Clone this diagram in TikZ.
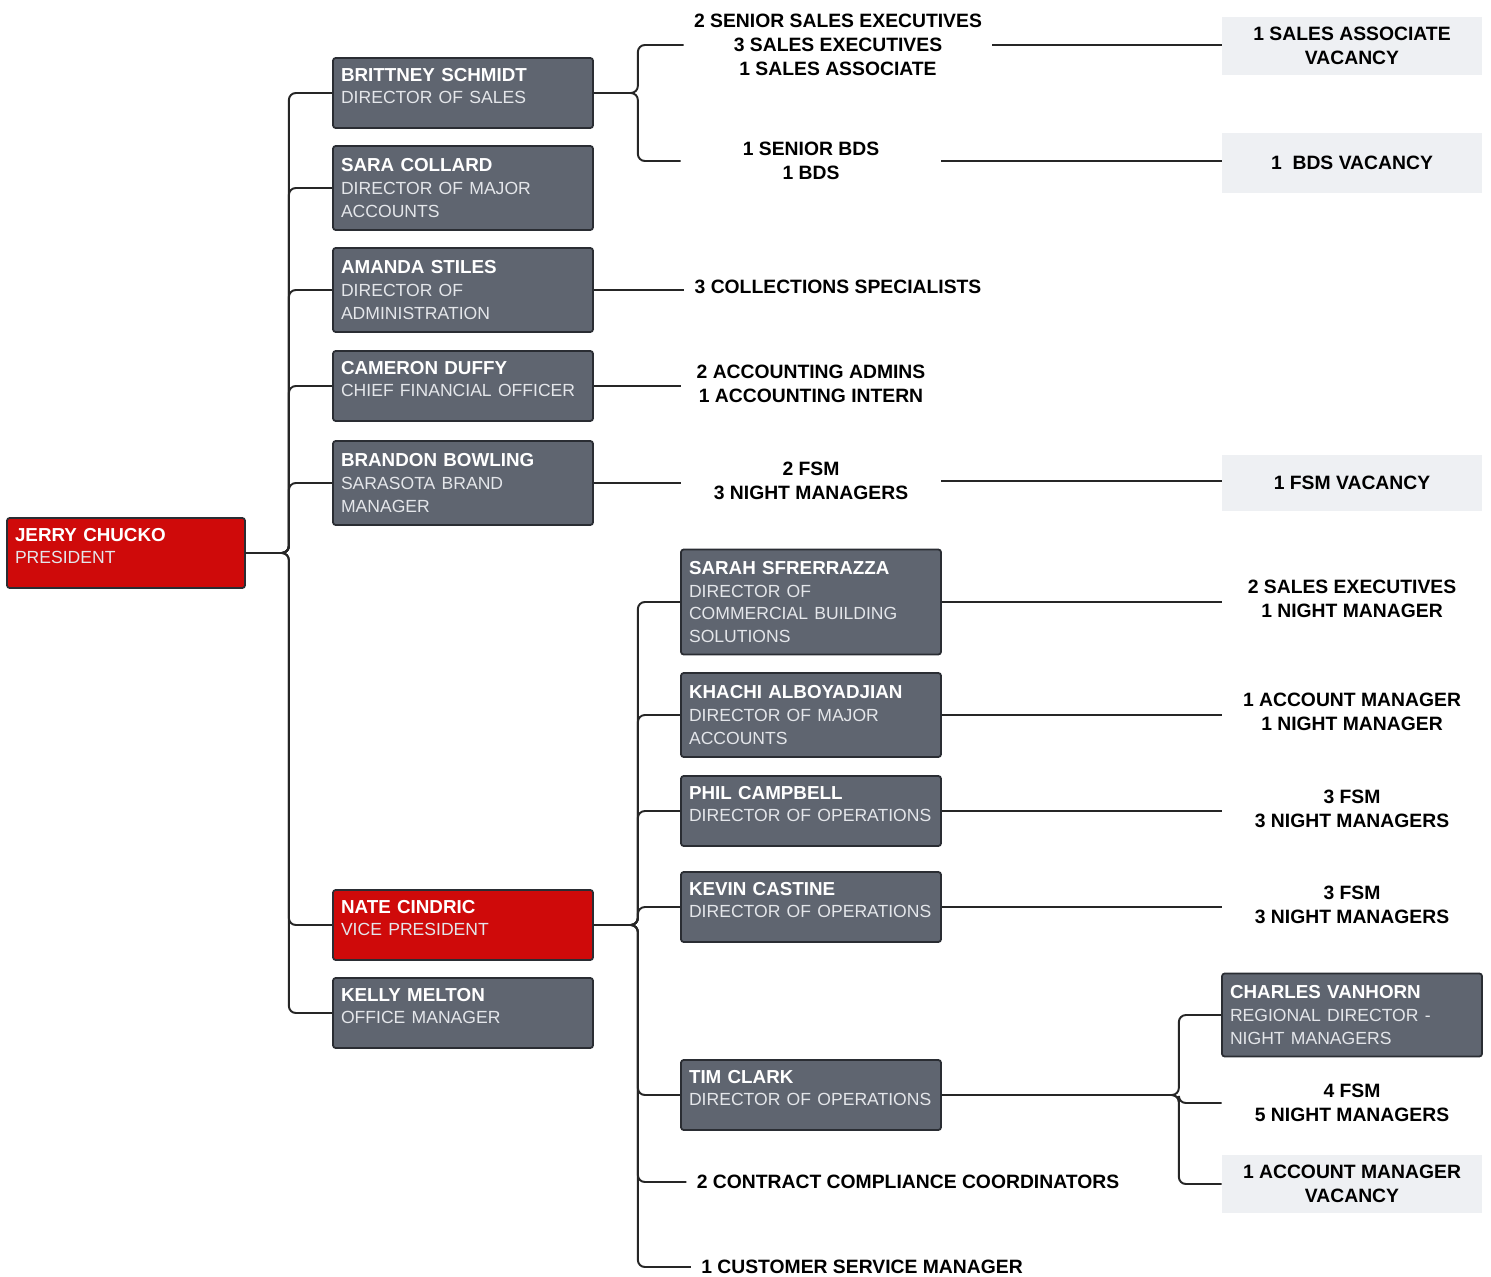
\documentclass[tikz,border=0pt]{standalone}
\usepackage{fontspec}
\setmainfont{Liberation Sans}
\definecolor{boxgray}{HTML}{5F6570}
\definecolor{boxred}{HTML}{CF0A0A}
\definecolor{boxline}{HTML}{2A2D33}
\definecolor{vacfill}{HTML}{EEF0F3}
\definecolor{subgray}{HTML}{E4E6EA}
\newcommand{\pname}[2]{{\bfseries\color{white}#1}\\{\fontsize{10}{13}\selectfont\color{subgray}#2}}

\begin{document}
\begin{tikzpicture}
[x=0.02cm,y=-0.02cm,%
  link/.style={draw=black!85,line width=1.1pt,rounded corners=4pt},%
  person/.style={shape=rectangle,draw=boxline,line width=1pt,fill=boxgray,rounded corners=1.5pt,%
    minimum width=5.2cm,text width=4.88cm,inner xsep=0.16cm,align=left,%
    font=\fontsize{10.7}{13}\selectfont},%
  short/.style={minimum height=1.4cm,text depth=21pt},%
  lead/.style={person,fill=boxred},%
  staff/.style={align=center,minimum width=5.2cm,inner xsep=0.2cm,%
    font=\bfseries\fontsize{11}{13.6}\selectfont},%
  vacancy/.style={staff,fill=vacfill}]
\useasboundingbox[fill=white] (0,0) rectangle (1491,1277);
% president
\node[lead,short,minimum width=4.76cm,text width=4.44cm] (jc) at (126,553) {\pname{JERRY CHUCKO}{PRESIDENT}};
% directors
\node[person,short] (bs) at (463,93) {\pname{BRITTNEY SCHMIDT}{DIRECTOR OF SALES}};
\node[person,minimum height=1.68cm] (sc) at (463,188) {\pname{SARA COLLARD}{DIRECTOR OF MAJOR\\ACCOUNTS}};
\node[person,minimum height=1.68cm] (as) at (463,290) {\pname{AMANDA STILES}{DIRECTOR OF\\ADMINISTRATION}};
\node[person,short] (cd) at (463,386) {\pname{CAMERON DUFFY}{CHIEF FINANCIAL OFFICER}};
\node[person,minimum height=1.68cm] (bb) at (463,483) {\pname{BRANDON BOWLING}{SARASOTA BRAND\\MANAGER}};
\node[lead,short] (nc) at (463,925) {\pname{NATE CINDRIC}{VICE PRESIDENT}};
\node[person,short] (km) at (463,1013) {\pname{KELLY MELTON}{OFFICE MANAGER}};
% teams of the directors
\node[staff] (sales) at (838,45) {2 SENIOR SALES EXECUTIVES\\3 SALES EXECUTIVES\\1 SALES ASSOCIATE};
\node[staff] (bds) at (811,161) {1 SENIOR BDS\\1 BDS};
\node[vacancy,minimum height=1.18cm] (vsa) at (1352,46) {1 SALES ASSOCIATE\\VACANCY};
\node[vacancy,minimum height=1.2cm] (vbds) at (1352,163) {1\ \ BDS VACANCY};
\node[staff] (coll) at (838,287) {3 COLLECTIONS SPECIALISTS};
\node[staff] (acct) at (811,384) {2 ACCOUNTING ADMINS\\1 ACCOUNTING INTERN};
\node[staff] (fsm) at (811,481) {2 FSM\\3 NIGHT MANAGERS};
\node[vacancy,minimum height=1.14cm] (vfsm) at (1352,483) {1 FSM VACANCY};
% vice president's reports
\node[person,minimum height=2.1cm] (ss) at (811,602) {\pname{SARAH SFRERRAZZA}{DIRECTOR OF\\COMMERCIAL BUILDING\\SOLUTIONS}};
\node[person,minimum height=1.68cm] (ka) at (811,715) {\pname{KHACHI ALBOYADJIAN}{DIRECTOR OF MAJOR\\ACCOUNTS}};
\node[person,short] (pc) at (811,811) {\pname{PHIL CAMPBELL}{DIRECTOR OF OPERATIONS}};
\node[person,short] (kc) at (811,907) {\pname{KEVIN CASTINE}{DIRECTOR OF OPERATIONS}};
\node[person,short] (tc) at (811,1095) {\pname{TIM CLARK}{DIRECTOR OF OPERATIONS}};
\node[staff] (ccc) at (908,1182) {2 CONTRACT COMPLIANCE COORDINATORS};
\node[staff] (csm) at (862,1267) {1 CUSTOMER SERVICE MANAGER};
% their teams
\node[staff] (tss) at (1352,599) {2 SALES EXECUTIVES\\1 NIGHT MANAGER};
\node[staff] (tka) at (1352,712) {1 ACCOUNT MANAGER\\1 NIGHT MANAGER};
\node[staff] (tpc) at (1352,809) {3 FSM\\3 NIGHT MANAGERS};
\node[staff] (tkc) at (1352,905) {3 FSM\\3 NIGHT MANAGERS};
\node[person,minimum height=1.66cm] (cv) at (1352,1015) {\pname{CHARLES VANHORN}{REGIONAL DIRECTOR -\\NIGHT MANAGERS}};
\node[staff] (ttc) at (1352,1103) {4 FSM\\5 NIGHT MANAGERS};
\node[vacancy,minimum height=1.16cm] (vam) at (1352,1184) {1 ACCOUNT MANAGER\\VACANCY};
% connectors
\foreach \c in {bs,sc,as,cd,bb,nc,km}
  \draw[link] (jc.east) -- ++(43,0) |- (\c.west);
\foreach \c in {sales,bds}
  \draw[link] (bs.east) -- ++(44,0) |- (\c.west);
\foreach \a/\b in {sales/vsa,bds/vbds,as/coll,cd/acct,bb/fsm,fsm/vfsm}
  \draw[link] (\a.east) -- (\a.east -| \b.west);
\foreach \c in {ss,ka,pc,kc,tc,ccc,csm}
  \draw[link] (nc.east) -- ++(44,0) |- (\c.west);
\foreach \a/\b in {ss/tss,ka/tka,pc/tpc,kc/tkc}
  \draw[link] (\a.east) -- (\a.east -| \b.west);
\foreach \c in {cv,ttc,vam}
  \draw[link] (tc.east) -- ++(237,0) |- (\c.west);
\end{tikzpicture}
\end{document}
